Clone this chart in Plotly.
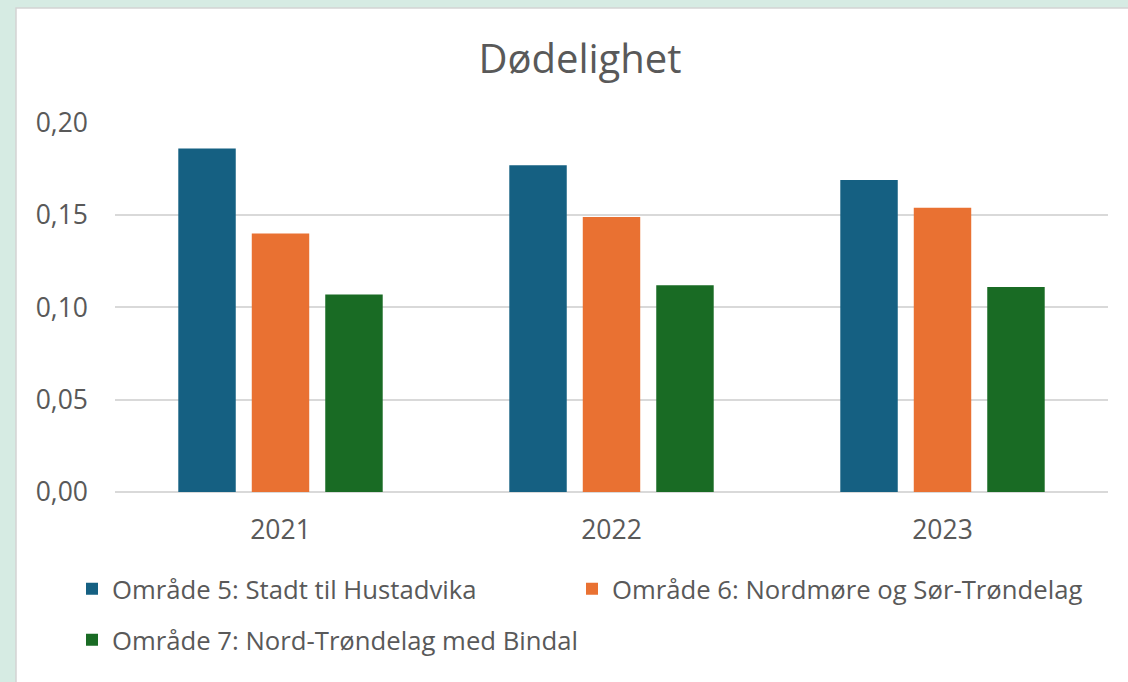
import plotly.graph_objects as go

years = ["2021", "2022", "2023"]
series_names = [
    "Område 5: Stadt til Hustadvika",
    "Område 6: Nordmøre og Sør-Trøndelag",
    "Område 7: Nord-Trøndelag med Bindal",
]
omr5 = [0.186, 0.177, 0.169]
omr6 = [0.140, 0.149, 0.154]
omr7 = [0.107, 0.112, 0.111]
colors = ["#156082", "#E97132", "#196B24"]

FONT = "Open Sans"
TXT = "#595959"
W, H = 1128, 682
ML, MR, MT, MB = 115, 20, 122, 190
PW, PH = W - ML - MR, H - MT - MB


def px_x(px):
    return (px - ML) / PW


def px_y(py):
    return (H - MB - py) / PH


fig = go.Figure()
legends = ["legend", "legend2", "legend3"]
for name, vals, col, lg in zip(series_names, [omr5, omr6, omr7], colors, legends):
    fig.add_trace(go.Bar(x=years, y=vals, name=name, marker=dict(color=col, line=dict(width=0)),
                         legend=lg, showlegend=True))

leg_common = dict(orientation="h", xanchor="left", yanchor="middle",
                  font=dict(family=FONT, size=25.7, color=TXT), bgcolor="rgba(0,0,0,0)",
                  itemwidth=30)

fig.update_layout(
    width=W, height=H,
    showlegend=True,
    margin=dict(l=ML, r=MR, t=MT, b=MB, pad=0),
    paper_bgcolor="#D6EBE3",
    plot_bgcolor="white",
    separators=", ",
    font=dict(family=FONT, color=TXT),
    title=dict(text="Dødelighet", x=580 / W, xref="container", xanchor="center",
               y=1 - 59 / H, yref="container", yanchor="middle",
               font=dict(family=FONT, size=40, color=TXT)),
    barmode="group", bargap=0.334, bargroupgap=0.218,
    legend=dict(x=px_x(72), y=px_y(589), **leg_common),
    legend2=dict(x=px_x(572), y=px_y(589), **leg_common),
    legend3=dict(x=px_x(72), y=px_y(640), **leg_common),
    shapes=[dict(type="rect", xref="paper", yref="paper", layer="below",
                 x0=px_x(16), x1=px_x(W + 10), y0=px_y(H + 10), y1=px_y(8),
                 fillcolor="white", line=dict(color="#D4D4D4", width=1.5))],
)
fig.update_yaxes(range=[0, 0.2004], dtick=0.05, tick0=0, tickformat=".2f",
                 showgrid=True, gridcolor="#D9D9D9", gridwidth=1.5,
                 zeroline=True, zerolinecolor="#D9D9D9", zerolinewidth=1.5,
                 showline=False, ticks="", ticklabelstandoff=26,
                 tickfont=dict(family=FONT, size=26.5, color=TXT))
fig.update_xaxes(showgrid=False, showline=False, ticks="", ticklabelstandoff=19,
                 tickfont=dict(family=FONT, size=26.5, color=TXT))

fig.write_html("out.html", config={"displayModeBar": False},
               post_script="document.body.style.margin='0';document.body.style.overflow='hidden';")
